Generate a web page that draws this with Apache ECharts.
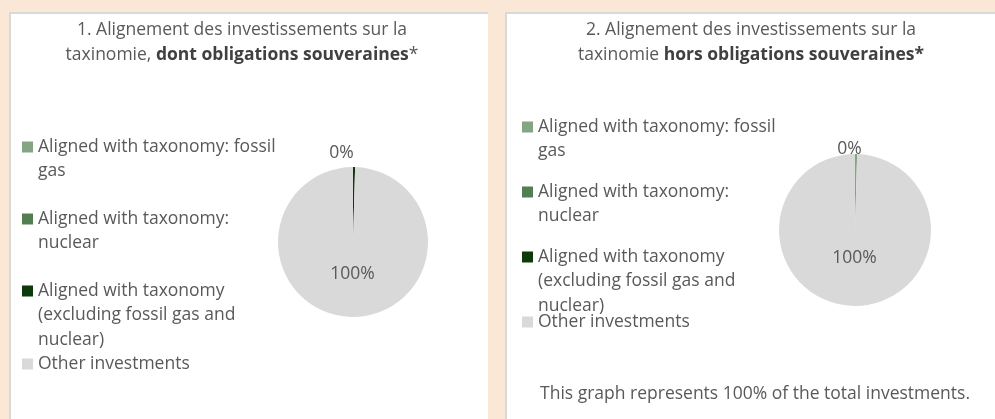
<!DOCTYPE html>
<html>
<head>
<meta charset="utf-8">
<script src="https://cdn.jsdelivr.net/npm/echarts@6/dist/echarts.min.js"></script>
<style>
  html, body { margin: 0; padding: 0; background: #fbe7d6; }
  #chart { width: 995px; height: 419px; }
</style>
</head>
<body>
<div id="chart"></div>
<script>
  // categories and values
  const categories = [
    'Aligned with taxonomy: fossil gas',
    'Aligned with taxonomy: nuclear',
    'Aligned with taxonomy (excluding fossil gas and nuclear)',
    'Other investments'
  ]
  const legendLines = [
    ['Aligned with taxonomy: fossil', 'gas'],
    ['Aligned with taxonomy:', 'nuclear'],
    ['Aligned with taxonomy', '(excluding fossil gas and', 'nuclear)'],
    ['Other investments']
  ]
  const withSovereign = [0, 0, 0.45, 99.55]
  const exSovereign = [0.45, 0, 0, 99.55]
  const colors = ['#84a484', '#527e52', '#0b3a0b', '#d9d9d9']

  const fontFamily = 'Open Sans'
  const fontSize = 17.5
  const textColor = '#595959'
  const lineH = 24.5

  function pieData (values, lineLen, outerShift, innerShift) {
    return categories.map((name, i) => {
      const item = { name, value: values[i] }
      if (values[i] === 0) {
        item.label = { show: false }
      } else if (values[i] < 5) {
        item.label = { show: true, position: 'outside', offset: [outerShift, 0] }
        item.labelLine = { show: false, length: lineLen, length2: 0 }
      } else {
        item.label = { show: true, position: 'inside', offset: [0, innerShift] }
      }
      return item
    })
  }

  // one legend per item so the spacing follows the picture;
  // blank lines on top keep the icon level with the first line
  function makeLegends (left, centers) {
    return categories.map((name, i) => {
      const n = legendLines[i].length
      const boxH = (2 * n - 1) * lineH
      return {
        data: [name],
        left,
        top: centers[i] - boxH / 2,
        padding: 0,
        orient: 'vertical',
        icon: 'rect',
        itemWidth: 11,
        itemHeight: 11,
        itemGap: 0,
        selectedMode: false,
        formatter: () => '\n'.repeat(n - 1) + legendLines[i].join('\n'),
        textStyle: {
          fontFamily,
          fontSize,
          color: textColor,
          lineHeight: lineH
        }
      }
    })
  }

  const titleRich = {
    n: { fontFamily, fontSize, color: textColor, fontWeight: 'normal', lineHeight: 25 },
    b: { fontFamily, fontSize, color: '#404040', fontWeight: 'bold', lineHeight: 25 }
  }

  const chart = echarts.init(document.getElementById('chart'))

  const option = {
    backgroundColor: '#fbe7d6',
    color: colors,
    textStyle: { fontFamily },
    graphic: [
      { type: 'rect', z: -10, shape: { x: 9, y: 12, width: 479, height: 420 }, style: { fill: '#d9d9d9' } },
      { type: 'rect', z: -9, shape: { x: 11, y: 14, width: 477, height: 420 }, style: { fill: '#ffffff' } },
      { type: 'rect', z: -10, shape: { x: 505, y: 12, width: 500, height: 420 }, style: { fill: '#d9d9d9' } },
      { type: 'rect', z: -9, shape: { x: 507, y: 14, width: 500, height: 420 }, style: { fill: '#ffffff' } }
    ],
    title: [
      {
        text: '{n|1. Alignement des investissements sur la}\n{n|taxinomie, }{b|dont obligations souveraines}{n|*}',
        left: 242,
        top: 18,
        padding: 0,
        textAlign: 'center',
        textStyle: { fontWeight: 'normal', rich: titleRich }
      },
      {
        text: '{n|2. Alignement des investissements sur la}\n{n|taxinomie }{b|hors obligations souveraines*}',
        left: 751,
        top: 18,
        padding: 0,
        textAlign: 'center',
        textStyle: { fontWeight: 'normal', rich: titleRich }
      },
      {
        text: 'This graph represents 100% of the total investments.',
        left: 755,
        top: 385,
        padding: 0,
        textAlign: 'center',
        textStyle: { fontFamily, fontSize, fontWeight: 'normal', color: textColor }
      }
    ],
    legend: makeLegends(22, [147, 219, 291, 364]).concat(makeLegends(522, [127, 192, 257, 322])),
    series: [
      {
        type: 'pie',
        center: [353, 242],
        radius: 75,
        startAngle: 90,
        silent: true,
        label: {
          fontFamily,
          fontSize,
          color: textColor,
          formatter: (p) => Math.round(p.percent) + '%'
        },
        data: pieData(withSovereign, 14, -30, -8)
      },
      {
        type: 'pie',
        center: [855, 230],
        radius: 76,
        startAngle: 90,
        silent: true,
        label: {
          fontFamily,
          fontSize,
          color: textColor,
          formatter: (p) => Math.round(p.percent) + '%'
        },
        data: pieData(exSovereign, 5, -24, -13)
      }
    ]
  }

  chart.setOption(option)
</script>
</body>
</html>
